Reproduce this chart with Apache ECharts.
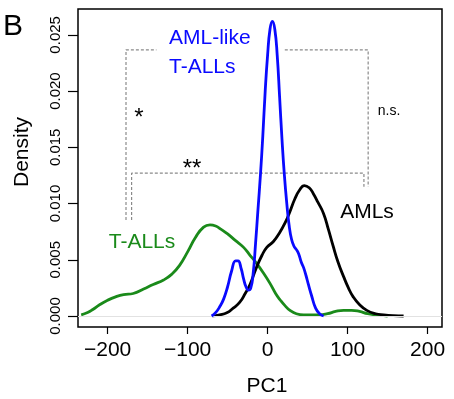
<!DOCTYPE html>
<html>
<head>
<meta charset="utf-8">
<script src="https://cdn.jsdelivr.net/npm/echarts@6/dist/echarts.min.js"></script>
<style>
  html, body { margin: 0; padding: 0; background: #fff; }
  #chart { width: 454px; height: 399px; }
</style>
</head>
<body>
<div id="chart"></div>
<script>
// density curves, [PC1, density]
const tallPC1 = [-233, -225, -218, -210, -200, -190, -180, -168, -155, -143, -130, -120, -110, -100, -90, -80, -72, -65, -58, -50, -40, -30, -22, -14, -5, 3, 10, 16, 22, 28, 36, 45, 55, 65, 75, 85, 95, 105, 115, 125, 135, 150];
const tallDens = [0.0001, 0.0003, 0.0006, 0.0010, 0.0014, 0.0017, 0.0019, 0.0020, 0.0024, 0.0028, 0.0032, 0.0037, 0.0045, 0.0057, 0.0070, 0.0079, 0.0081, 0.0080, 0.0077, 0.0073, 0.0067, 0.0061, 0.0054, 0.0047, 0.0038, 0.0029, 0.0020, 0.0014, 0.0009, 0.0005, 0.0002, 0.0001, 0.0001, 0.0001, 0.0002, 0.0004, 0.0005, 0.0005, 0.0004, 0.0002, 0.0001, 0];

const amlPC1 = [-69, -60, -51, -43, -35, -28, -22, -14, -7, -1, 7, 15, 22, 28, 34, 40, 46, 52, 57, 63, 70, 76, 82, 88, 95, 101, 107, 115, 124, 135, 145, 157, 170];
const amlDens = [0, 0.0001, 0.00028, 0.0007, 0.0012, 0.0020, 0.0028, 0.0043, 0.0054, 0.0061, 0.0066, 0.0074, 0.0083, 0.0093, 0.0104, 0.0112, 0.0116, 0.0114, 0.0109, 0.0101, 0.0091, 0.0077, 0.0062, 0.0048, 0.0035, 0.0025, 0.0017, 0.0010, 0.0005, 0.0002, 0.0001, 0.00003, 0];

const amlLikePC1 = [-70, -65, -60, -55, -50, -45, -40, -37, -33, -30, -27, -24, -21, -18, -15, -12, -9, -6, -3, 0, 3, 6, 9, 12, 15, 18, 21, 24, 27, 30, 33, 36, 39, 42, 45, 48, 51, 55, 60, 65, 70];
const amlLikeDens = [0, 0.0003, 0.0008, 0.0015, 0.0026, 0.0040, 0.0049, 0.0049, 0.0042, 0.0033, 0.0026, 0.0023, 0.0025, 0.0038, 0.0065, 0.0095, 0.0125, 0.0160, 0.0200, 0.0232, 0.0255, 0.0262, 0.0255, 0.0232, 0.0195, 0.0157, 0.0125, 0.0100, 0.0080, 0.0068, 0.0062, 0.0059, 0.0055, 0.0048, 0.0043, 0.0036, 0.0028, 0.0018, 0.0007, 0.0002, 0];

// significance brackets in data units
const bracketTopLeft = [[-177, 0.00854], [-177, 0.02367], [-139, 0.02367]];
const bracketTopRight = [[21.5, 0.02367], [125.7, 0.02367], [125.7, 0.01149]];
const bracketLow = [[-170, 0.00854], [-170, 0.0127], [120.4, 0.0127], [120.4, 0.01149]];

const xTicks = [-200, -100, 0, 100, 200];
const yTicks = [0, 0.005, 0.01, 0.015, 0.02, 0.025];

const zip = (xs, ys) => xs.map((x, i) => [x, ys[i]]);
const FONT = "'Liberation Sans', Arial, Helvetica, sans-serif";

const chart = echarts.init(document.getElementById('chart'), null, { renderer: 'canvas' });

const dashed = { color: '#8a8a8a', width: 1.2, type: [3, 2] };
const bracket = d => ({
  type: 'line', data: d, symbol: 'none', silent: true, smooth: false,
  lineStyle: dashed, z: 1
});
const curve = (d, color, z) => ({
  type: 'line', data: d, symbol: 'none', smooth: 0.5,
  lineStyle: { color: color, width: 2.8 }, silent: true, z: z
});

const text = (t, x, y, size, color, extra) => Object.assign({
  type: 'text', x: x, y: y,
  style: { text: t, fill: color, font: size + 'px ' + FONT, textAlign: 'center', textVerticalAlign: 'middle' }
}, extra || {});

chart.setOption({
  animation: false,
  grid: { left: 78, right: 12, top: 9, bottom: 72, show: true, borderColor: '#000', borderWidth: 1.5, backgroundColor: 'transparent' },
  xAxis: {
    type: 'value', min: -237, max: 218,
    splitLine: { show: false },
    axisLine: { show: false, onZero: false },
    axisTick: { show: true, length: 7, lineStyle: { color: '#000', width: 1.2 }, customValues: xTicks },
    axisLabel: {
      customValues: xTicks, margin: 13, color: '#000', fontSize: 21, fontFamily: FONT,
      formatter: v => String(v).replace('-', '\u2212')
    }
  },
  yAxis: {
    type: 'value', min: -0.00098, max: 0.0273,
    splitLine: { show: false },
    axisLine: { show: false, onZero: false },
    axisTick: { show: true, length: 10, lineStyle: { color: '#000', width: 1.2 }, customValues: yTicks },
    axisLabel: {
      customValues: yTicks, rotate: 90, margin: 15, color: '#000', fontSize: 15, fontFamily: FONT,
      formatter: v => v.toFixed(3)
    }
  },
  series: [
    bracket(bracketTopLeft),
    bracket(bracketTopRight),
    bracket(bracketLow),
    Object.assign(curve(zip(tallPC1, tallDens), '#1a8a1a', 3), {
      markLine: {
        silent: true, symbol: 'none', label: { show: false },
        lineStyle: { color: '#e2e2e2', width: 1, type: 'solid' },
        data: [{ yAxis: 0 }]
      }
    }),
    curve(zip(amlPC1, amlDens), '#000', 4),
    curve(zip(amlLikePC1, amlLikeDens), '#0a0aff', 5)
  ],
  graphic: [
    text('B', 13, 27, 30, '#000'),
    text('Density', 22, 152, 21, '#000', { rotation: Math.PI / 2 }),
    text('PC1', 267, 386, 21, '#000'),
    text('AML-like', 169, 38, 21, '#0a0aff', { style: { text: 'AML-like', fill: '#0a0aff', font: '21px ' + FONT, textAlign: 'left', textVerticalAlign: 'middle' } }),
    text('T-ALLs', 169, 67, 21, '#0a0aff', { style: { text: 'T-ALLs', fill: '#0a0aff', font: '21px ' + FONT, textAlign: 'left', textVerticalAlign: 'middle' } }),
    text('T-ALLs', 142, 242, 21, '#1a8a1a'),
    text('AMLs', 367, 212, 21, '#000'),
    text('*', 139, 118, 24, '#000'),
    text('**', 192, 169, 24, '#000'),
    text('n.s.', 389, 111, 14, '#000')
  ]
});
</script>
</body>
</html>
